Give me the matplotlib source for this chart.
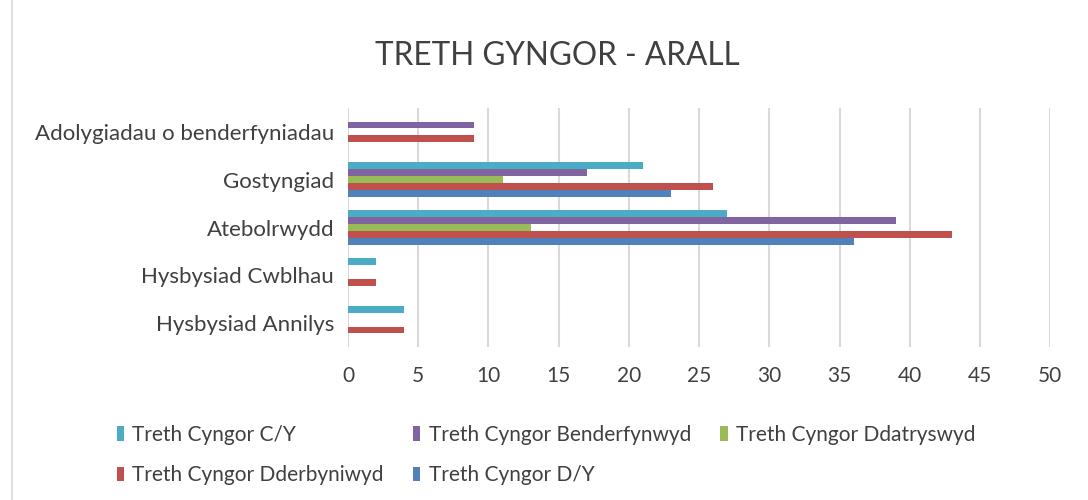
import matplotlib.pyplot as plt
import numpy as np

# categories listed bottom to top, as drawn
categories = ['Hysbysiad Annilys', 'Hysbysiad Cwblhau', 'Atebolrwydd',
              'Gostyngiad', 'Adolygiadau o benderfyniadau']

series_names = ['Treth Cyngor D/Y', 'Treth Cyngor Dderbyniwyd',
                'Treth Cyngor Ddatryswyd', 'Treth Cyngor Benderfynwyd',
                'Treth Cyngor C/Y']
d_y = [0, 0, 36, 23, 0]
dderbyniwyd = [4, 2, 43, 26, 9]
ddatryswyd = [0, 0, 13, 11, 0]
benderfynwyd = [0, 0, 39, 17, 9]
c_y = [4, 2, 27, 21, 0]
series_values = [d_y, dderbyniwyd, ddatryswyd, benderfynwyd, c_y]
colors = ['#4F81BD', '#C0504D', '#9BBB59', '#8064A2', '#4BACC6']

plt.rcParams['font.family'] = ['Lato', 'DejaVu Sans']

fig = plt.figure(figsize=(10.88, 5), dpi=100)
ax = fig.add_axes([0.3199, 0.306, 0.6453, 0.478])

y = np.arange(len(categories))
h = 0.146
for i, (vals, col, name) in enumerate(zip(series_values, colors, series_names)):
    ax.barh(y + (i - 2) * h, vals, height=h * 0.98, color=col, label=name, zorder=3)

ax.set_xlim(0, 50)
ax.set_ylim(-0.5, len(categories) - 0.5)
ax.set_xticks(np.arange(0, 51, 5))
ax.set_yticks(y)
ax.set_yticklabels(categories)
ax.tick_params(axis='both', length=0, labelsize=15, colors='#404040')
ax.tick_params(axis='y', labelsize=16, pad=10)
ax.tick_params(axis='x', pad=14)
ax.xaxis.grid(True, color='#D9D9D9', linewidth=1.5, zorder=0)
for s in ax.spines.values():
    s.set_visible(False)

fig.text(0.512, 0.888, 'TRETH GYNGOR - ARALL', ha='center', va='center',
         fontsize=22.7, color='#404040')

handles, labels = ax.get_legend_handles_labels()
order = [4, 1, 3, 0, 2]
fig.legend([handles[k] for k in order], [labels[k] for k in order],
           ncol=3, loc='upper left', bbox_to_anchor=(0.094, 0.18),
           frameon=False, fontsize=15, handlelength=0.35, handleheight=0.7,
           handletextpad=0.4, columnspacing=1.4, labelspacing=1.0,
           labelcolor='#404040', borderpad=0.2)

fig.add_artist(plt.Rectangle((0.011, -0.01), 0.99, 1.02, transform=fig.transFigure,
                             fill=False, edgecolor='#D9D9D9', linewidth=1.2))

fig.savefig('out.png', dpi=100)
